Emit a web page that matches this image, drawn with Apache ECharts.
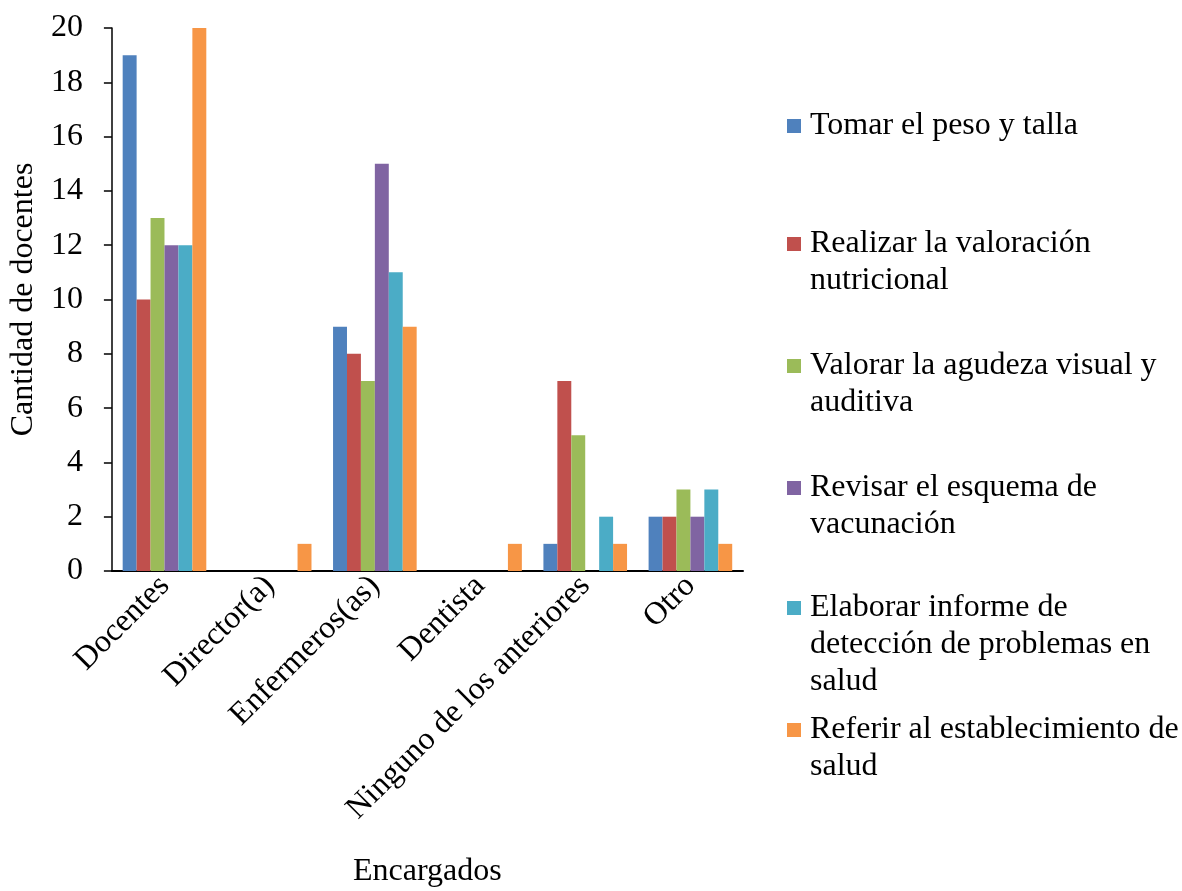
<!DOCTYPE html>
<html>
<head>
<meta charset="utf-8">
<script src="https://cdn.jsdelivr.net/npm/echarts@6/dist/echarts.min.js"></script>
<style>
  html, body { margin: 0; padding: 0; background: #fff; }
  #chart { width: 1182px; height: 891px; }
</style>
</head>
<body>
<div id="chart"></div>
<script>
const categories = ["Docentes", "Director(a)", "Enfermeros(as)", "Dentista", "Ninguno de los anteriores", "Otro"];

const seriesNames = [
  "Tomar el peso y talla",
  "Realizar la valoración nutricional",
  "Valorar la agudeza visual y auditiva",
  "Revisar el esquema de vacunación",
  "Elaborar informe de detección de problemas en salud",
  "Referir al establecimiento de salud"
];

// legend text as it wraps in the original
const legendLines = [
  ["Tomar el peso y talla"],
  ["Realizar la valoración", "nutricional"],
  ["Valorar la agudeza visual y", "auditiva"],
  ["Revisar el esquema de", "vacunación"],
  ["Elaborar informe de", "detección de problemas en", "salud"],
  ["Referir al establecimiento de", "salud"]
];

const pesoTalla = [19, 0, 9, 0, 1, 2];
const valoracion = [10, 0, 8, 0, 7, 2];
const agudeza = [13, 0, 7, 0, 5, 3];
const vacunacion = [12, 0, 15, 0, 0, 2];
const informe = [12, 0, 11, 0, 2, 3];
const referir = [20, 1, 9, 1, 1, 1];

const yTicks = [0, 2, 4, 6, 8, 10, 12, 14, 16, 18, 20];

const colors = ["#4F81BD", "#C0504D", "#9BBB59", "#8064A2", "#4BACC6", "#F79646"];
const values = [pesoTalla, valoracion, agudeza, vacunacion, informe, referir];

const FONT = "'Liberation Serif', 'Times New Roman', serif";
const LH = 37;
// y of the first text line of each legend entry
const legendY = [126, 244, 366, 488, 608, 730];

const chart = echarts.init(document.getElementById("chart"));

const legends = seriesNames.map((name, i) => {
  const lines = legendLines[i];
  const n = lines.length;
  // blank lines in front keep the marker level with the first line
  const text = new Array(n - 1).fill("").concat(lines).join("\n");
  return {
    data: [name],
    orient: "vertical",
    left: 787,
    top: legendY[i] - (2 * n - 1) * LH / 2,
    padding: 0,
    itemWidth: 14,
    itemHeight: 14,
    icon: "rect",
    selectedMode: false,
    formatter: () => text,
    textStyle: {
      fontFamily: FONT,
      fontSize: 32,
      color: "#000",
      lineHeight: LH,
      padding: [0, 0, 0, 4]
    }
  };
});

chart.setOption({
  animation: false,
  backgroundColor: "#fff",
  color: colors,
  title: {
    text: "Encargados",
    left: 353,
    top: 856,
    padding: 0,
    textStyle: { fontFamily: FONT, fontSize: 32, fontWeight: "normal", color: "#000" }
  },
  legend: legends,
  grid: { left: 109, right: 439, top: 28, bottom: 320, containLabel: false },
  xAxis: {
    type: "category",
    data: categories,
    axisLine: { lineStyle: { color: "#000", width: 2 } },
    axisTick: { show: false },
    axisLabel: {
      rotate: 45,
      interval: 0,
      margin: 10,
      fontFamily: FONT,
      fontSize: 32,
      color: "#000"
    }
  },
  yAxis: {
    type: "value",
    min: 0,
    max: 20,
    interval: 2,
    name: "Cantidad de docentes",
    nameLocation: "middle",
    nameGap: 61,
    nameTextStyle: { fontFamily: FONT, fontSize: 32, color: "#000" },
    axisLine: { show: true, lineStyle: { color: "#000", width: 1.5 } },
    axisTick: { show: true, inside: false, length: 8, lineStyle: { color: "#000", width: 1.5 } },
    splitLine: { show: false },
    axisLabel: {
      margin: 29,
      fontFamily: FONT,
      fontSize: 32,
      color: "#000",
      formatter: (v) => (yTicks.includes(v) ? String(v) : "")
    }
  },
  series: seriesNames.map((name, i) => ({
    name: name,
    type: "bar",
    data: values[i],
    barGap: "0%",
    barCategoryGap: "20.5%",
    itemStyle: { color: colors[i] }
  }))
});
</script>
</body>
</html>
